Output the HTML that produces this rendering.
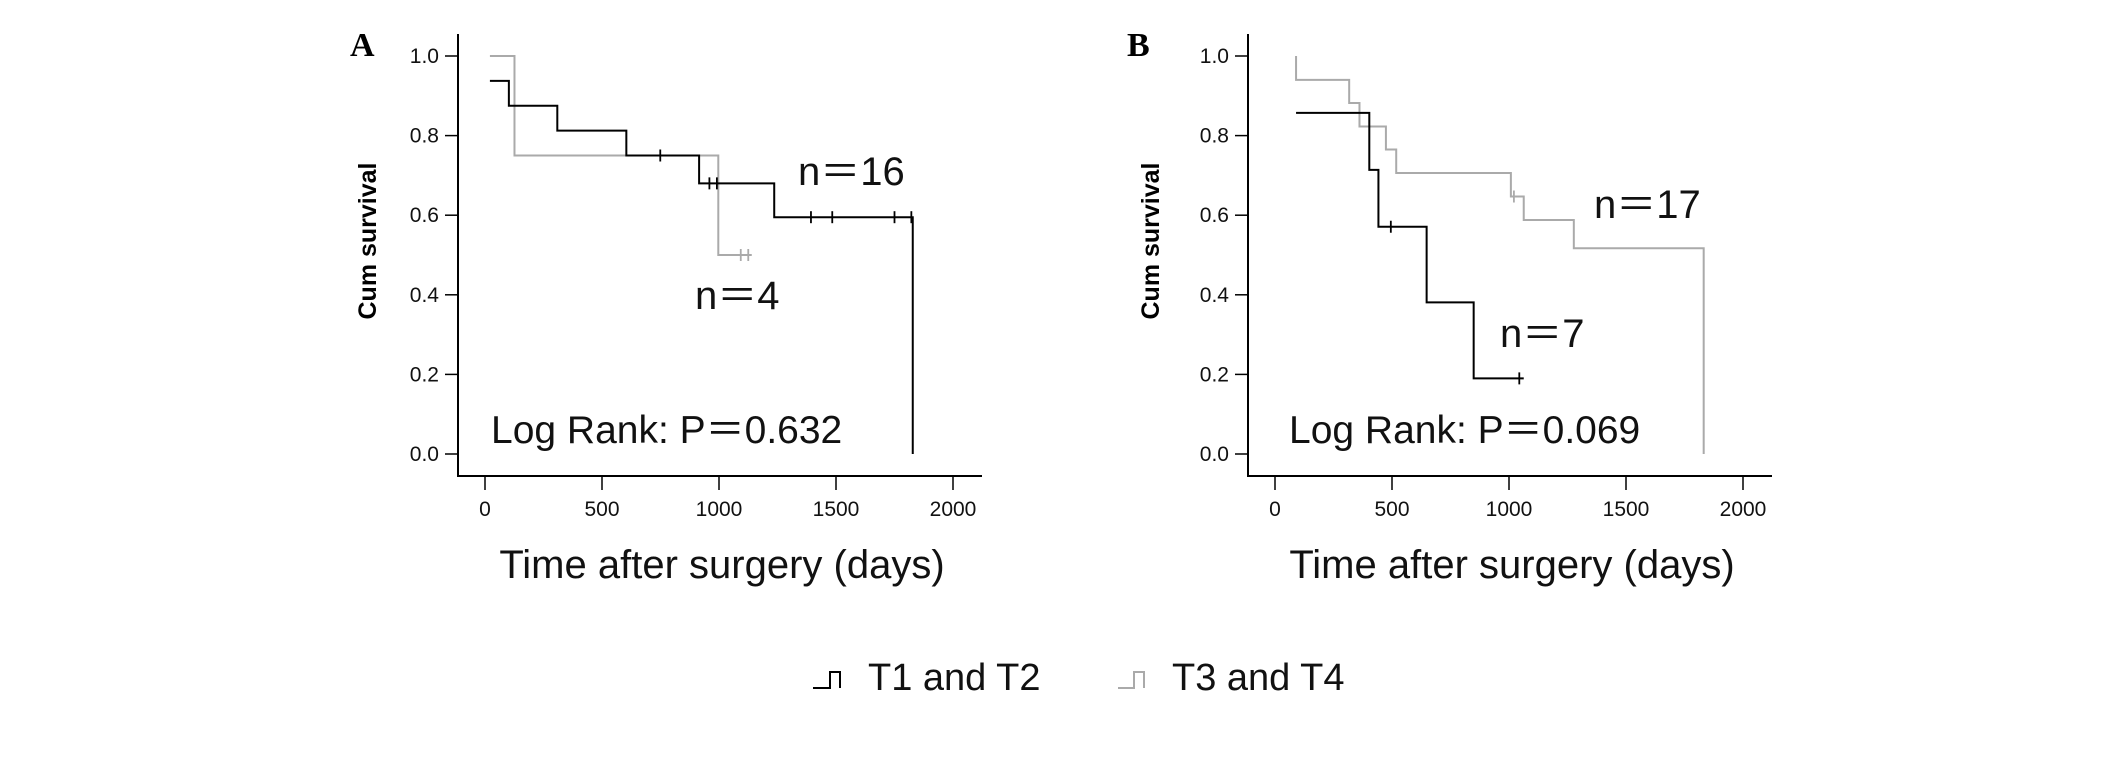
<!DOCTYPE html>
<html><head><meta charset="utf-8"><style>
html,body{margin:0;padding:0;background:#fff;}
svg{display:block;font-family:"Liberation Sans",Arial,sans-serif;}
</style></head><body>
<svg id="fig" width="2126" height="770" viewBox="0 0 2126 770" xmlns="http://www.w3.org/2000/svg">
<rect width="2126" height="770" fill="#fff"/>
</svg>
<script>
// Panel A data
const aBlackSteps = [[21,0.9375],[102,0.875],[309,0.8125],[604,0.75],[915,0.68],[1236,0.595],[1828,0]];
const aBlackEnd = 1828;
const aBlackCensors = [749,959,991,1393,1484,1750,1822];
const aGraySteps = [[21,1.0],[126,0.75],[997,0.5]];
const aGrayEnd = 1140;
const aGrayCensors = [1093,1125];
// Panel B data
const bBlackSteps = [[90,0.857],[403,0.714],[442,0.571],[648,0.381],[849,0.19]];
const bBlackEnd = 1063;
const bBlackCensors = [495,1044];
const bGraySteps = [[90,1.0],[90,0.94],[317,0.882],[361,0.823],[474,0.765],[518,0.706],[1008,0.647],[1063,0.588],[1277,0.517],[1832,0]];
const bGrayEnd = 1832;
const bGrayCensors = [1021];
const xTicks = [0,500,1000,1500,2000];
const yTicks = [0.0,0.2,0.4,0.6,0.8,1.0];

const svg = document.getElementById('fig');
const NS = 'http://www.w3.org/2000/svg';
function mk(tag, attrs, parent){
  const e = document.createElementNS(NS, tag);
  for (const k in attrs) e.setAttribute(k, attrs[k]);
  (parent||svg).appendChild(e);
  return e;
}
function txt(s, attrs, parent){ const e = mk('text', attrs, parent); e.textContent = s; return e; }

function stepValue(steps, t){
  let v = steps[0][1];
  for (const s of steps) if (s[0] <= t) v = s[1];
  return v;
}

const Y0 = 454, Y1 = 56, XAXIS = 476;

function panel(cfg){
  const g = mk('g', {});
  
  
  const X = d => cfg.x0 + d*(cfg.x2000-cfg.x0)/2000;
  const Y = v => Y0 - v*(Y0-Y1);
  const ya = mk('line', {x1:cfg.ax, y1:34, x2:cfg.ax, y2:XAXIS+1, stroke:'#000','stroke-width':2}, g);
  
  
  const xa = mk('line', {x1:cfg.ax, y1:XAXIS, x2:cfg.ax+524, y2:XAXIS, stroke:'#000','stroke-width':2}, g);
  
  
  yTicks.forEach(v => {
    mk('line', {x1:cfg.ax-13, y1:Y(v), x2:cfg.ax, y2:Y(v), stroke:'#000','stroke-width':1.5}, g);
    const t = txt(v.toFixed(1), {x:cfg.ax-19, y:Y(v)+7, 'font-size':21, 'text-anchor':'end', fill:'#111'}, g);
    
    
  });
  xTicks.forEach(d => {
    mk('line', {x1:X(d), y1:XAXIS, x2:X(d), y2:XAXIS+14, stroke:'#000','stroke-width':1.5}, g);
    const t = txt(String(d), {x:X(d), y:516, 'font-size':21, 'text-anchor':'middle', fill:'#111'}, g);
    
    
  });
  function series(steps, end, censors, color, name){
    let d = 'M'+X(steps[0][0])+','+Y(steps[0][1]);
    for (let i=1;i<steps.length;i++){
      d += ' H'+X(steps[i][0])+' V'+Y(steps[i][1]);
    }
    d += ' H'+X(end);
    const p = mk('path', {d:d, fill:'none', stroke:color, 'stroke-width':2}, g);
    
    
    censors.forEach(c => {
      const v = stepValue(steps, c);
      const m = mk('line', {x1:X(c), y1:Y(v)-6, x2:X(c), y2:Y(v)+6, stroke:color, 'stroke-width':1.8}, g);
      
      
    });
  }
  series(cfg.gray[0], cfg.gray[1], cfg.gray[2], '#aaa', 'series-t3-t4');
  series(cfg.black[0], cfg.black[1], cfg.black[2], '#000', 'series-t1-t2');
  const lab = txt(cfg.letter, {x:cfg.letterX, y:56, 'font-size':34, 'font-weight':'bold', 'font-family':'"Liberation Serif",serif'}, g);
  
  
  const yt = txt('Cum survival', {x:0, y:0, 'font-size':25, 'font-weight':'bold', 'text-anchor':'middle', transform:'translate('+cfg.ytX+',241) rotate(-90)'}, g);
  
  
  const xt = txt('Time after surgery (days)', {x:cfg.ax+264, y:578, 'font-size':40, 'text-anchor':'middle', fill:'#111'}, g);
  
  
  cfg.notes.forEach(n => {
    const t = txt(n[0], {x:n[1], y:n[2], 'font-size':n[3], fill:'#111'}, g);
    
    
  });
}

panel({name:'panel-a', letter:'A', letterX:350, ax:458, x0:485, x2000:953, ytX:376,
  black:[aBlackSteps, aBlackEnd, aBlackCensors], gray:[aGraySteps, aGrayEnd, aGrayCensors],
  notes:[['n＝16',798,185,40,'n-label-t1-t2'],['n＝4',695,309,40,'n-label-t3-t4'],['Log Rank: P＝0.632',491,443,39,'log-rank-p-value']]});
panel({name:'panel-b', letter:'B', letterX:1127, ax:1248, x0:1275, x2000:1743, ytX:1159,
  black:[bBlackSteps, bBlackEnd, bBlackCensors], gray:[bGraySteps, bGrayEnd, bGrayCensors],
  notes:[['n＝17',1594,218,40,'n-label-t3-t4'],['n＝7',1500,347,40,'n-label-t1-t2'],['Log Rank: P＝0.069',1289,443,39,'log-rank-p-value']]});

const lg = mk('g', {});


const i1 = mk('path', {d:'M813,688 H830 V672 H840 V688', fill:'none', stroke:'#000','stroke-width':2}, lg);


const t1 = txt('T1 and T2', {x:868, y:690, 'font-size':38, fill:'#111'}, lg);


const i2 = mk('path', {d:'M1118,688 H1134 V672 H1144 V688', fill:'none', stroke:'#aaa','stroke-width':2}, lg);


const t2 = txt('T3 and T4', {x:1172, y:690, 'font-size':38, fill:'#111'}, lg);


</script>
</body></html>
